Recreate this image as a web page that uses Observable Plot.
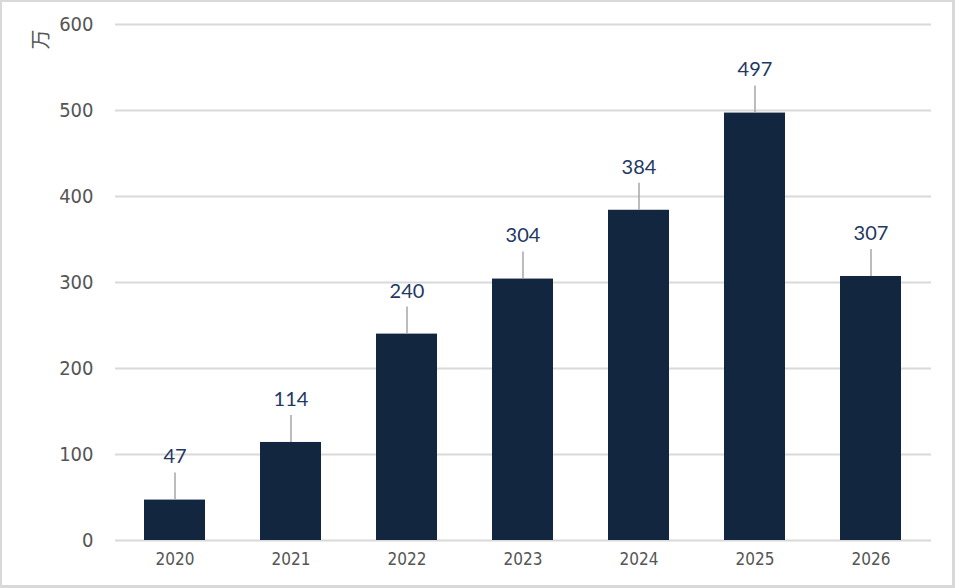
<!DOCTYPE html>
<html>
<head>
<meta charset="utf-8">
<script src="https://cdn.jsdelivr.net/npm/d3@7"></script>
<script src="https://cdn.jsdelivr.net/npm/@observablehq/plot@0.6"></script>
<style>
  html, body { margin: 0; padding: 0; background: #fff; }
  #wrap { position: relative; width: 955px; height: 588px; overflow: hidden; }
  #frame { position: absolute; left: 0; top: 0; width: 955px; height: 588px; box-sizing: border-box; border: 2px solid #d9d9d9; border-right-width: 3px; border-bottom-width: 3px; pointer-events: none; }
</style>
</head>
<body>
<div id="wrap"><div id="frame"></div></div>
<script>
const years = ["2020", "2021", "2022", "2023", "2024", "2025", "2026"];
const values = [47, 114, 240, 304, 384, 497, 307];
const yTicks = [0, 100, 200, 300, 400, 500, 600];
const unitLabel = ["万"];

const data = years.map((year, i) => ({ year, value: values[i] }));

const W = 955, H = 588;
const mTop = 24, mBottom = 48, mLeft = 115, mRight = 24;
const yMax = 600;
const pxPerUnit = (H - mTop - mBottom) / yMax;
const leadPx = 27;

const tickFont = "'DejaVu Sans Condensed', 'DejaVu Sans', sans-serif";
const labelFont = "Lato, 'Open Sans', sans-serif";

const chart = Plot.plot({
  width: W,
  height: H,
  marginTop: mTop,
  marginBottom: mBottom,
  marginLeft: mLeft,
  marginRight: mRight,
  style: { background: "transparent", fontFamily: tickFont },
  x: { domain: years, paddingInner: 0.47, paddingOuter: 0.235, label: null },
  y: { domain: [0, yMax], label: null },
  marks: [
    Plot.gridY(yTicks, { stroke: "#d9d9d9", strokeOpacity: 1, strokeWidth: 2 }),
    Plot.barY(data, { x: "year", y: "value", fill: "#12263f" }),
    Plot.ruleX(data, {
      x: "year",
      y1: "value",
      y2: d => d.value + leadPx / pxPerUnit,
      stroke: "#a6a6a6",
      strokeWidth: 1.5
    }),
    Plot.text(data, {
      x: "year",
      y: "value",
      text: d => String(d.value),
      dy: -43,
      fontSize: 20,
      fill: "#1f3864",
      fontFamily: labelFont
    }),
    Plot.axisY({
      ticks: yTicks,
      tickSize: 0,
      tickPadding: 22,
      fontSize: 20,
      fill: "#555555",
      label: null
    }),
    Plot.axisX({
      tickSize: 0,
      tickPadding: 12,
      fontSize: 17,
      fill: "#555555",
      label: null
    }),
    Plot.text(unitLabel, {
      text: d => d,
      frameAnchor: "top-left",
      dx: -82,
      dy: 25,
      rotate: -90,
      fontSize: 20,
      fill: "#555555",
      fontFamily: "'Noto Sans CJK SC', sans-serif"
    })
  ]
});

document.getElementById("wrap").insertBefore(chart, document.getElementById("frame"));
</script>
</body>
</html>
